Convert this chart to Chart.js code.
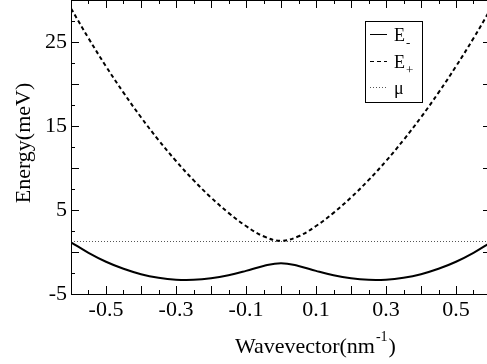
<!DOCTYPE html>
<html>
<head>
<meta charset="utf-8">
<script src="https://cdn.jsdelivr.net/npm/chart.js@4/dist/chart.umd.min.js"></script>
<style>
    html, body { margin: 0; padding: 0; background: #fff; overflow: hidden; }
    #wrap { position: relative; width: 494px; height: 364px; }
    #chart { display: block; }
</style>
</head>
<body>
<div id="wrap"><canvas id="chart" width="494" height="364"></canvas></div>
<script>
// values
const wavevector = [-0.6, -0.55, -0.5, -0.45, -0.4, -0.35, -0.3, -0.25, -0.2, -0.15, -0.1, -0.05, 0,
                    0.05, 0.1, 0.15, 0.2, 0.25, 0.3, 0.35, 0.4, 0.45, 0.5, 0.55, 0.6];
const eMinus = [1.16, -0.1, -1.16, -2.0, -2.64, -3.06, -3.29, -3.31, -3.13, -2.77, -2.25, -1.66, -1.33,
                -1.66, -2.25, -2.77, -3.13, -3.31, -3.29, -3.06, -2.64, -2.0, -1.16, -0.1, 1.16];
const ePlus = [29.0, 25.45, 22.1, 18.97, 16.04, 13.33, 10.83, 8.55, 6.49, 4.66, 3.09, 1.87, 1.33,
               1.87, 3.09, 4.66, 6.49, 8.55, 10.83, 13.33, 16.04, 18.97, 22.1, 25.45, 29.0];
const muLevel = 1.25;
const xRange = [-0.6, 0.6];
const yRange = [-5, 30];
const xTickLabels = [-0.5, -0.3, -0.1, 0.1, 0.3, 0.5];
const yTickLabels = [-5, 5, 15, 25];

const serif = "'Liberation Serif', 'Times New Roman', serif";

const toPoints = (xs, ys) => xs.map((x, i) => ({ x: x, y: ys[i] }));

const framePlugin = {
    id: 'frame',
    afterDraw(chart) {
        const ctx = chart.ctx;
        const a = chart.chartArea;
        const xs = chart.scales.x;
        const ys = chart.scales.y;
        ctx.save();
        ctx.strokeStyle = '#000';
        ctx.lineWidth = 1;
        ctx.strokeRect(Math.round(a.left) + 0.5, Math.round(a.top) + 0.5,
                       Math.round(a.right - a.left), Math.round(a.bottom - a.top));

        // inward ticks on all four sides
        ctx.beginPath();
        for (let i = -12; i <= 12; i++) {
            const px = Math.round(xs.getPixelForValue(i * 0.05)) + 0.5;
            const len = i % 2 === 0 ? 8 : 4;
            ctx.moveTo(px, a.bottom); ctx.lineTo(px, a.bottom - len);
            ctx.moveTo(px, a.top); ctx.lineTo(px, a.top + len);
        }
        for (let j = -2; j <= 12; j++) {
            const py = Math.round(ys.getPixelForValue(j * 2.5)) + 0.5;
            const len = j % 2 === 0 ? 8 : 4;
            ctx.moveTo(a.left, py); ctx.lineTo(a.left + len, py);
            ctx.moveTo(a.right, py); ctx.lineTo(a.right - len, py);
        }
        ctx.stroke();

        // axis titles
        ctx.fillStyle = '#000';
        ctx.font = '22px ' + serif;
        ctx.textBaseline = 'alphabetic';
        ctx.save();
        ctx.translate(30, 143);
        ctx.rotate(-Math.PI / 2);
        ctx.textAlign = 'center';
        ctx.fillText('Energy(meV)', 0, 0);
        ctx.restore();

        ctx.textAlign = 'left';
        let tx = 235;
        const base = 353;
        ctx.fillText('Wavevector(nm', tx, base);
        tx += ctx.measureText('Wavevector(nm').width;
        ctx.font = '14px ' + serif;
        ctx.fillText('-1', tx + 1, base - 12);
        tx += ctx.measureText('-1').width + 2;
        ctx.font = '22px ' + serif;
        ctx.fillText(')', tx, base);

        // legend
        const lx = 365, ly = 21, lw = 57, lh = 81;
        ctx.fillStyle = '#fff';
        ctx.fillRect(lx, ly, lw, lh);
        ctx.strokeStyle = '#000';
        ctx.lineWidth = 1;
        ctx.strokeRect(lx + 0.5, ly + 0.5, lw, lh);
        const rows = [
            { y: 34, ds: chart.data.datasets[0], sub: '-', main: 'E' },
            { y: 61, ds: chart.data.datasets[1], sub: '+', main: 'E' },
            { y: 87, ds: chart.data.datasets[2], sub: '', main: 'μ' }
        ];
        rows.forEach(r => {
            ctx.save();
            ctx.strokeStyle = r.ds.borderColor;
            ctx.lineWidth = 1;
            ctx.setLineDash(r.ds.borderDash || []);
            ctx.beginPath();
            ctx.moveTo(370, r.y + 0.5);
            ctx.lineTo(387, r.y + 0.5);
            ctx.stroke();
            ctx.restore();
            ctx.fillStyle = '#000';
            ctx.font = '18px ' + serif;
            ctx.textAlign = 'left';
            ctx.fillText(r.main, 394, r.y + 7);
            if (r.sub) {
                const w = ctx.measureText(r.main).width;
                ctx.font = '13px ' + serif;
                ctx.fillText(r.sub, 394 + w + 1, r.y + 13);
            }
        });
        ctx.restore();
    }
};

new Chart(document.getElementById('chart'), {
    type: 'line',
    data: {
        datasets: [
            {
                label: 'E-',
                data: toPoints(wavevector, eMinus),
                borderColor: '#000',
                borderWidth: 2,
                pointRadius: 0,
                tension: 0.4
            },
            {
                label: 'E+',
                data: toPoints(wavevector, ePlus),
                borderColor: '#000',
                borderWidth: 2,
                borderDash: [4, 3],
                pointRadius: 0,
                tension: 0.4
            },
            {
                label: 'μ',
                data: toPoints(xRange, [muLevel, muLevel]),
                borderColor: '#555',
                borderWidth: 1,
                borderDash: [1, 2],
                pointRadius: 0
            }
        ]
    },
    options: {
        responsive: false,
        animation: false,
        devicePixelRatio: 1,
        layout: { padding: { top: 0, right: 3, left: 0, bottom: 0 } },
        plugins: { legend: { display: false }, tooltip: { enabled: false } },
        scales: {
            x: {
                type: 'linear',
                min: xRange[0],
                max: xRange[1],
                grid: { display: false, drawTicks: false },
                border: { display: false },
                ticks: {
                    color: '#000',
                    font: { family: serif, size: 22 },
                    padding: 3,
                    maxRotation: 0,
                    autoSkip: false,
                    callback: v => v.toFixed(1)
                },
                afterBuildTicks: s => { s.ticks = xTickLabels.map(v => ({ value: v })); },
                afterFit: s => { s.height = 70; s.paddingLeft = 0; s.paddingRight = 0; }
            },
            y: {
                type: 'linear',
                min: yRange[0],
                max: yRange[1],
                grid: { display: false, drawTicks: false },
                border: { display: false },
                ticks: {
                    color: '#000',
                    font: { family: serif, size: 22 },
                    padding: 4,
                    autoSkip: false,
                    callback: v => String(v)
                },
                afterBuildTicks: s => { s.ticks = yTickLabels.map(v => ({ value: v })); },
                afterFit: s => { s.width = 71; s.paddingTop = 0; s.paddingBottom = 0; }
            }
        }
    },
    plugins: [framePlugin]
});
</script>
</body>
</html>
